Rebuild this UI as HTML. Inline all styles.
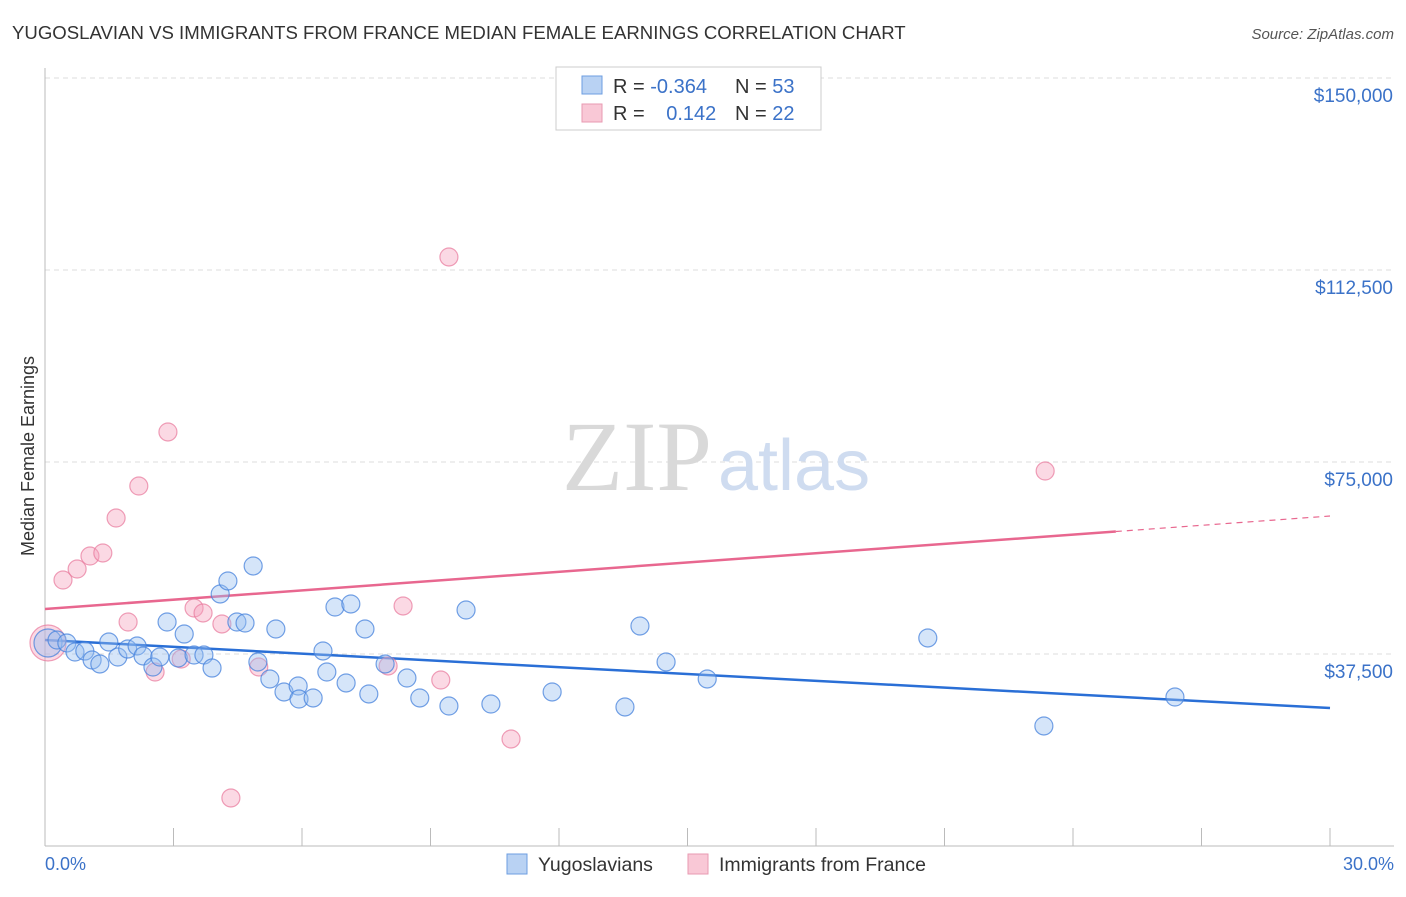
<!DOCTYPE html>
<html><head><meta charset="utf-8"><style>
body{margin:0;background:#fff;font-family:"Liberation Sans",sans-serif;}
</style></head><body>
<svg id="chart" width="1406" height="892" xmlns="http://www.w3.org/2000/svg" font-family="Liberation Sans, sans-serif">
<text x="12" y="39" font-size="18.6" fill="#333">YUGOSLAVIAN VS IMMIGRANTS FROM FRANCE MEDIAN FEMALE EARNINGS CORRELATION CHART</text>
<text x="1394" y="39" font-size="15" fill="#555" text-anchor="end" font-style="italic">Source: ZipAtlas.com</text>
<g id="grid"></g>
<text x="712" y="490" font-size="100" fill="#d9d9d9" text-anchor="end" style="font-family:'Liberation Serif',serif">ZIP</text>
<text x="718" y="490" font-size="72" fill="#cfdcf0">atlas</text>
<g id="lines"></g>
<g id="points"></g>
<text transform="translate(34,456) rotate(-90)" font-size="18" fill="#333" text-anchor="middle">Median Female Earnings</text>
<text x="45" y="870" font-size="18" fill="#3b72c8">0.0%</text>
<text x="1394" y="870" font-size="18" fill="#3b72c8" text-anchor="end">30.0%</text>
<g>
<rect x="556" y="67" width="265" height="63" fill="#fff" stroke="#ccc"/>
<rect x="582" y="76" width="20" height="18" fill="#b9d2f3" stroke="#6d9ee0"/>
<rect x="582" y="104" width="20" height="18" fill="#f9c8d6" stroke="#e89ab2"/>
<text x="613" y="93" font-size="20" fill="#333">R = <tspan fill="#3b72c8">-0.364</tspan></text>
<text x="735" y="93" font-size="20" fill="#333">N = <tspan fill="#3b72c8">53</tspan></text>
<text x="613" y="120" font-size="20" fill="#333">R = <tspan fill="#3b72c8" dx="16">0.142</tspan></text>
<text x="735" y="120" font-size="20" fill="#333">N = <tspan fill="#3b72c8">22</tspan></text>
</g>
<g>
<rect x="507" y="854" width="20" height="20" fill="#b9d2f3" stroke="#6d9ee0"/>
<text x="538" y="871" font-size="19.5" fill="#333">Yugoslavians</text>
<rect x="688" y="854" width="20" height="20" fill="#f9c8d6" stroke="#e89ab2"/>
<text x="719" y="871" font-size="19.5" fill="#333">Immigrants from France</text>
</g>
</svg>
<script>
const yTicks=[37500,75000,112500,150000];
const yTickLabels=["$37,500","$75,000","$112,500","$150,000"];
const blueX=[0.07,0.28,0.51,0.70,0.93,1.10,1.28,1.49,1.70,1.93,2.15,2.29,2.52,2.68,2.85,3.11,3.25,3.48,3.71,3.90,4.09,4.27,4.48,4.67,4.86,4.97,5.25,5.39,5.58,5.91,5.93,6.26,6.49,6.58,6.77,7.03,7.14,7.47,7.56,7.94,8.45,8.75,9.43,9.83,10.41,11.84,13.54,13.89,14.50,15.46,20.61,23.32,26.38];
const blueY=[39650,40230,39650,37890,38080,36330,35550,39840,36910,38470,39060,37110,34960,36910,43750,36720,41400,37300,37300,34760,49220,51760,43750,43550,54690,35940,32620,42380,30080,31250,28710,28910,38090,33980,46680,31840,47270,42380,29690,35550,32810,28910,27340,46090,27730,30080,27150,42970,35940,32620,40630,23440,29100];
const pinkX=[0.07,0.42,0.75,1.05,1.35,1.66,1.94,2.19,2.57,2.87,3.18,3.48,3.69,4.13,4.99,8.01,8.36,9.24,9.43,10.88,4.34,23.35];
const pinkY=[39650,51950,54100,56640,57230,64060,43750,70310,33980,80860,36520,46480,45510,43360,34960,35160,46880,32420,115040,20900,9380,73240];
const blueTrend=[40230,26950];
const pinkTrend=[46290,64450];
const pinkSolidEnd=25;
const NS="http://www.w3.org/2000/svg";
const xs=v=>45+v/30*1285;
const ys=v=>846-v/37500*192;
function mk(t,a,p){const e=document.createElementNS(NS,t);for(const k in a)e.setAttribute(k,a[k]);p.appendChild(e);return e;}
const grid=document.getElementById('grid');
yTicks.forEach((t,i)=>{
 const l=mk('line',{x1:45,x2:1394,y1:ys(t),y2:ys(t),stroke:'#ddd','stroke-dasharray':'5,4'},grid);
 
 
 const tx=mk('text',{x:1393,y:ys(t)+24,'font-size':19,fill:'#3b72c8','text-anchor':'end'},grid);
 tx.textContent=yTickLabels[i];
 
 
});
const ax=mk('line',{x1:45,x2:45,y1:68,y2:846,stroke:'#bbb'},grid);


const bx=mk('line',{x1:45,x2:1394,y1:846,y2:846,stroke:'#bbb'},grid);


for(let i=0;i<=10;i++){
 const t=mk('line',{x1:xs(i*3),x2:xs(i*3),y1:828,y2:846,stroke:'#bbb'},grid);
 
 
}
const lines=document.getElementById('lines');
const slope=(pinkTrend[1]-pinkTrend[0])/30;
const bl=mk('line',{x1:xs(0),y1:ys(blueTrend[0]),x2:xs(30),y2:ys(blueTrend[1]),stroke:'#2a6fd6','stroke-width':2.5},lines);


const pl=mk('line',{x1:xs(0),y1:ys(pinkTrend[0]),x2:xs(pinkSolidEnd),y2:ys(pinkTrend[0]+slope*pinkSolidEnd),stroke:'#e8678f','stroke-width':2.5},lines);


const pd=mk('line',{x1:xs(pinkSolidEnd),y1:ys(pinkTrend[0]+slope*pinkSolidEnd),x2:xs(30),y2:ys(pinkTrend[1]),stroke:'#e8678f','stroke-width':1.2,'stroke-dasharray':'6,5'},lines);


const pts=document.getElementById('points');
pinkX.forEach((x,i)=>{
 const c=mk('circle',{cx:xs(x),cy:ys(pinkY[i]),r:i==0?18:9,fill:'rgba(244,160,188,0.4)',stroke:'rgba(232,120,155,0.7)','stroke-width':1.2},pts);
 
 
});
blueX.forEach((x,i)=>{
 const c=mk('circle',{cx:xs(x),cy:ys(blueY[i]),r:i==0?14:9,fill:'rgba(150,190,240,0.4)',stroke:'rgba(70,130,220,0.75)','stroke-width':1.2},pts);
 
 
});
</script>
</body></html>
